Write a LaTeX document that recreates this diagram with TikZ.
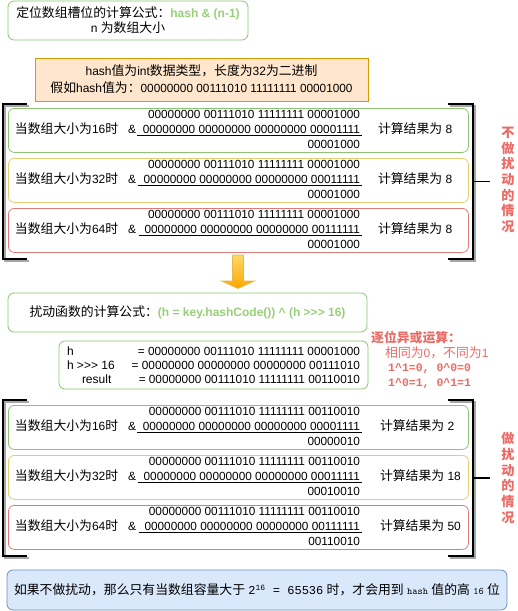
\documentclass[tikz,border=0pt]{standalone}
\usepackage{fontspec}
\setmainfont{Liberation Sans}
\setmonofont{Liberation Mono}
\newfontfamily\cjk{Noto Sans CJK SC}[Scale=1.07]
\newfontfamily\lmmono{Latin Modern Mono}
\usetikzlibrary{calc}
\definecolor{hgreen}{HTML}{97D077}
\definecolor{hred}{HTML}{EA6B66}
\definecolor{bgreen}{HTML}{8CC474}
\definecolor{byellow}{HTML}{E8CC72}
\definecolor{bred}{HTML}{E07A78}
\definecolor{ofill}{HTML}{FFE6CC}
\definecolor{ostroke}{HTML}{D79B00}
\definecolor{bfill}{HTML}{DAE8FC}
\definecolor{bstroke}{HTML}{6C8EBF}
\definecolor{arrtop}{HTML}{FFD966}
\definecolor{arrbot}{HTML}{FFA500}
\newcommand\binfont{\fontsize{11.8}{15}\selectfont}
\tikzset{
  txt/.style={inner sep=0pt, outer sep=0pt, font=\fontsize{12}{15}\selectfont, text height=9pt, text depth=3pt},
  bintxt/.style={txt, font=\binfont},
  boxbase/.style={rounded corners=6pt, line width=0.8pt, fill=white, inner sep=0pt, align=center, font=\fontsize{12}{15}\selectfont},
  rowbox/.style={boxbase, minimum width=460pt, minimum height=44pt},
  brk/.style={line width=1.8pt},
  brkshadow/.style={line width=1.8pt, draw=black!35},
  redtxt/.style={inner sep=0pt, text=hred, font=\fontsize{12}{15}\selectfont},
  vtxt/.style={inner sep=0pt, text=hred, align=center, font=\fontsize{12.3}{15.7}\selectfont\bfseries},
}
\newcommand\calcrow[9]{%
  \node[rowbox, draw=#3, anchor=north west] (#1) at (8,#2) {};
  \node[txt, anchor=west] (#1-l) at (15,{#2+22}) {{\cjk 当数组大小为}#4{\cjk 时}};
  \node[bintxt, anchor=east] (#1-a) at (360,{#2+7}) {#5};
  \node[txt, anchor=west] (#1-amp) at (128,{#2+22}) {\&};
  \node[bintxt, anchor=east] (#1-m) at (360,{#2+22}) {#6};
  \node[bintxt, anchor=east] (#1-r) at (360,{#2+37}) {#7};
  \node[txt, anchor=west] (#1-res) at (#9,{#2+22}) {{\cjk 计算结果为} #8};
  \draw[line width=0.8pt] ($(#1-m.base west)+(-5.5,2)$) -- ($(#1-m.base east)+(2,2)$);
}
\newcommand\bracketpair[3]{% #1 name, #2 top, #3 bottom
  \foreach \s/\st in {2/brkshadow,0/brk} {
    \draw[\st, shift={(\s,\s)}] (27,#2) -- (3,#2) -- (3,#3) -- (27,#3);
    \draw[\st, shift={(\s,\s)}] (448,#2) -- (473,#2) -- (473,#3) -- (448,#3);
  }
  \coordinate (#1-mid) at (473,{(#2+#3)/2});
  \coordinate (#1-end) at (490,{(#2+#3)/2});
  \draw[brk] (#1-mid) -- (#1-end);
}
\begin{document}
\begin{tikzpicture}[x=1pt,y=-1pt]
\useasboundingbox (0,0) rectangle (518,611);
% top formula
\node[boxbase, draw=bgreen, minimum width=240pt, minimum height=39pt] (formula) at (128,20.5)
  {{\cjk 定位数组槽位的计算公式：}{\bfseries\color{hgreen}hash \& (n-1)}\\n {\cjk 为数组大小}};
% orange info box
\node[boxbase, draw=ostroke, fill=ofill, rounded corners=0pt, minimum width=333pt, minimum height=43pt,
  font=\fontsize{12}{17}\selectfont] (info) at (201.5,79.5)
  {hash{\cjk 值为}int{\cjk 数据类型，长度为}32{\cjk 为二进制}\\{\cjk 假如}hash{\cjk 值为：}{\binfont 00000000 00111010 11111111 00001000}};
% first group
\bracketpair{b1}{104}{259}
\calcrow{r1}{108}{bgreen}{16}{00000000 00111010 11111111 00001000}{00000000 00000000 00000000 00001111}{00001000}{8}{378}
\calcrow{r2}{158}{byellow}{32}{00000000 00111010 11111111 00001000}{00000000 00000000 00000000 00011111}{00001000}{8}{378}
\calcrow{r3}{208}{bred}{64}{00000000 00111010 11111111 00001000}{00000000 00000000 00000000 00111111}{00001000}{8}{378}
\node[vtxt] (lbl1) at (508,180) {{\cjk 不}\\{\cjk 做}\\{\cjk 扰}\\{\cjk 动}\\{\cjk 的}\\{\cjk 情}\\{\cjk 况}};
% arrow
\draw[top color=arrtop, bottom color=arrbot, draw=ostroke!70, line width=0.6pt]
  (232.5,255) -- (243.5,255) -- (243.5,281) -- (254.5,281) -- (238,288.5) -- (221.5,281) -- (232.5,281) -- cycle;
% disturb formula
\node[boxbase, draw=bgreen, minimum width=359pt, minimum height=39pt] (disturb) at (187.5,312.5)
  {{\cjk 扰动函数的计算公式：}{\bfseries\color{hgreen}(h = key.hashCode()) \^{} (h >{}>{}> 16)}};
% hash box
\node[boxbase, draw=bgreen, minimum width=309pt, minimum height=48pt] (hbox) at (213.5,365) {};
\node[txt, anchor=west] (h1l) at (67,352) {h};
\node[bintxt, anchor=east] (h1r) at (360,352) {= 00000000 00111010 11111111 00001000};
\node[txt, anchor=west] (h2l) at (67,366) {h >{}>{}> 16};
\node[bintxt, anchor=east] (h2r) at (360,366) {= 00000000 00000000 00000000 00111010};
\node[txt, anchor=west] (h3l) at (82,380) {result};
\node[bintxt, anchor=east] (h3r) at (360,380) {= 00000000 00111010 11111111 00110010};
% xor notes
\node[redtxt, anchor=west] (x1) at (371,338) {\cjk\bfseries 逐位异或运算：};
\node[redtxt, anchor=west] (x2) at (385,353) {{\cjk 相同为}0{\cjk ，不同为}1};
\node[redtxt, anchor=west, font=\fontsize{11.5}{14}\selectfont\ttfamily\bfseries] (x3) at (388,369) {1\^{}1=0, 0\^{}0=0};
\node[redtxt, anchor=west, font=\fontsize{11.5}{14}\selectfont\ttfamily\bfseries] (x4) at (388,384) {1\^{}0=1, 0\^{}1=1};
% second group
\bracketpair{b2}{400}{556}
\calcrow{s1}{405}{bgreen}{16}{00000000 00111010 11111111 00110010}{00000000 00000000 00000000 00001111}{00000010}{2}{380}
\calcrow{s2}{455}{byellow}{32}{00000000 00111010 11111111 00110010}{00000000 00000000 00000000 00011111}{00010010}{18}{380}
\calcrow{s3}{505}{bred}{64}{00000000 00111010 11111111 00110010}{00000000 00000000 00000000 00111111}{00110010}{50}{380}
\node[vtxt] (lbl2) at (508,478) {{\cjk 做}\\{\cjk 扰}\\{\cjk 动}\\{\cjk 的}\\{\cjk 情}\\{\cjk 况}};
% bottom note
\node[boxbase, draw=bstroke, fill=bfill, minimum width=500pt, minimum height=40pt] (note) at (257,590)
  {{\cjk 如果不做扰动，那么只有当数组容量大于} {\ttfamily 2\textsuperscript{16} = 65536} {\cjk 时，才会用到} {\lmmono\fontsize{10}{12}\selectfont hash} {\cjk 值的高} {\lmmono\fontsize{10}{12}\selectfont 16} {\cjk 位}};
\end{tikzpicture}
\end{document}
